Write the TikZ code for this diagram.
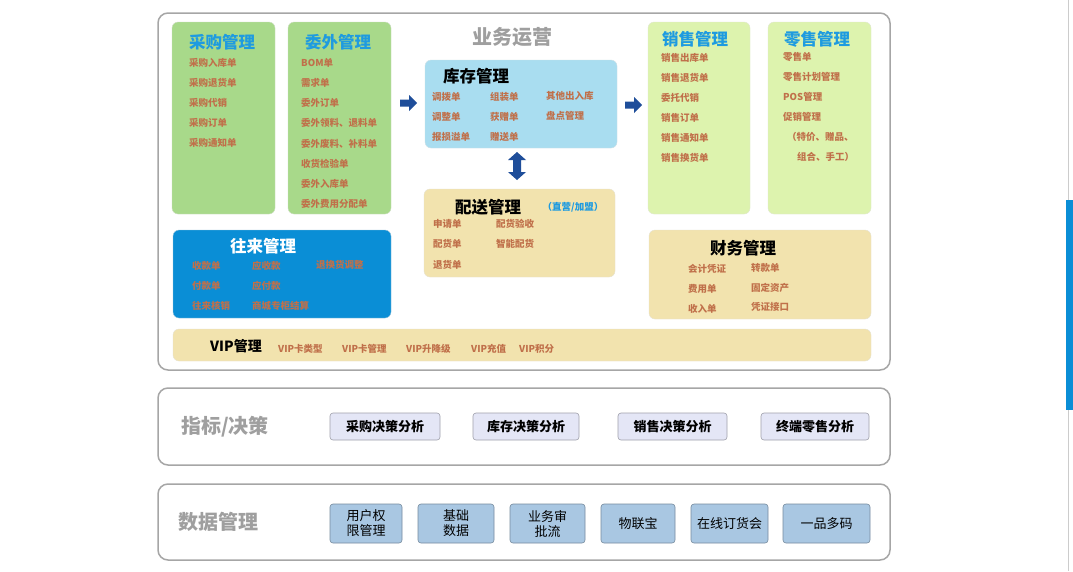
\documentclass[tikz,border=0pt]{standalone}
\usepackage{fontspec}
\setmainfont{Noto Sans CJK SC}
\usetikzlibrary{positioning}
\definecolor{tblue}{HTML}{1E9BE0}
\definecolor{itm}{HTML}{C0704A}
\definecolor{gA}{HTML}{A8D98A}
\definecolor{gB}{HTML}{DDF3AE}
\definecolor{lb}{HTML}{A9DDF0}
\definecolor{bg}{HTML}{F2E3AE}
\definecolor{db}{HTML}{0A8ED6}
\definecolor{arr}{HTML}{1F4E9A}
\definecolor{lav}{HTML}{E4E6F6}
\definecolor{bgray}{HTML}{A9C7E2}
\begin{document}
\begin{tikzpicture}[x=1pt,y=-1pt,
  outer/.style={draw=gray!70,line width=1.5pt,rounded corners=10pt,fill=white},
  box/.style={rounded corners=6pt,draw=#1!80!black!40,line width=0.4pt,fill=#1,inner sep=0pt},
  itemtxt/.style={anchor=west,text=itm,font=\fontsize{9.5}{10}\selectfont\bfseries,inner sep=0pt},
  ttl/.style={font=\fontsize{16.5}{17}\selectfont\bfseries,inner sep=0pt},
  bigg/.style={font=\fontsize{20}{21}\selectfont\bfseries,text=gray!75,inner sep=0pt},
  btn/.style={draw=#1!70!black,fill=#1,rounded corners=3pt,line width=0.6pt,font=\fontsize{13}{15}\selectfont,align=center,inner sep=0pt},
  barr/.style={fill=arr,draw=none}]
\useasboundingbox (0,0) rectangle (1073,571);
\fill[white] (0,0) rectangle (1073,571);
\draw[gray!40] (1068,0) -- (1068,571);
\fill[db] (1066,200) rectangle (1073,410);
% outer boxes
\node[outer,minimum width=732pt,minimum height=357pt] (o1) at (524,191.5) {};
\node[outer,minimum width=732pt,minimum height=77pt] (o2) at (524,426.5) {};
\node[outer,minimum width=732pt,minimum height=76pt] (o3) at (524,522) {};
\node[bigg] (yw) at (512,37) {业务运营};
% 采购
\node[box=gA,minimum width=103pt,minimum height=192pt] (cg) at (223.5,118) {};
\node[ttl,text=tblue] (cgt) at (222,42) {采购管理};
\foreach \t [count=\i] in {采购入库单,采购退货单,采购代销,采购订单,采购通知单}
  \node[itemtxt] (cg\i) at (189,{43+20*\i}) {\t};
% 委外
\node[box=gA,minimum width=103pt,minimum height=192pt] (ww) at (339.5,118) {};
\node[ttl,text=tblue] (wwt) at (338,42) {委外管理};
\foreach \t [count=\i] in {BOM单,需求单,委外订单,委外领料、退料单,委外废料、补料单,收货检验单,委外入库单,委外费用分配单}
  \node[itemtxt] (ww\i) at (301,{43+20.1*\i}) {\t};
% 库存
\node[box=lb,minimum width=192pt,minimum height=88pt] (kc) at (521,104) {};
\node[ttl] (kct) at (476,76) {库存管理};
\node[itemtxt] (k1) at (432,97) {调拨单};
\node[itemtxt] (k2) at (432,117) {调整单};
\node[itemtxt] (k3) at (432,137) {报损溢单};
\node[itemtxt] (k4) at (490,97) {组装单};
\node[itemtxt] (k5) at (490,117) {获赠单};
\node[itemtxt] (k6) at (490,137) {赠送单};
\node[itemtxt] (k7) at (546,96) {其他出入库};
\node[itemtxt] (k8) at (546,116) {盘点管理};
% 配送
\node[box=bg,minimum width=191pt,minimum height=88pt] (ps) at (519.5,233) {};
\node[ttl] (pst) at (488,207) {配送管理};
\node[text=tblue,font=\fontsize{9.5}{10}\selectfont\bfseries,inner sep=0pt] (pss) at (573,207) {（直营/加盟）};
\node[itemtxt] (p1) at (433,224) {申请单};
\node[itemtxt] (p2) at (433,244) {配货单};
\node[itemtxt] (p3) at (433,265) {退货单};
\node[itemtxt] (p4) at (496,224) {配货验收};
\node[itemtxt] (p5) at (496,244) {智能配货};
% arrows
\coordinate (a1) at (400,103);
\fill[barr] (a1) ++(0,-3.5) -- ++(9,0) -- ++(0,-4.5) -- ++(8,8) -- ++(-8,8) -- ++(0,-4.5) -- ++(-9,0) -- cycle;
\coordinate (a2) at (625,105);
\fill[barr] (a2) ++(0,-3.5) -- ++(9,0) -- ++(0,-4.5) -- ++(8,8) -- ++(-8,8) -- ++(0,-4.5) -- ++(-9,0) -- cycle;
\coordinate (a3) at (517,152);
\fill[barr] (a3) -- ++(9,8) -- ++(-5,0) -- ++(0,12) -- ++(5,0) -- ++(-9,8) -- ++(-9,-8) -- ++(5,0) -- ++(0,-12) -- ++(-5,0) -- cycle;
% 往来
\node[box=db,minimum width=218pt,minimum height=88pt] (wl) at (282,274) {};
\node[ttl,text=white] (wlt) at (263,246) {往来管理};
\node[itemtxt] (w1) at (192,266) {收款单};
\node[itemtxt] (w2) at (192,286) {付款单};
\node[itemtxt] (w3) at (192,306) {往来核销};
\node[itemtxt] (w4) at (252,266) {应收款};
\node[itemtxt] (w5) at (252,286) {应付款};
\node[itemtxt] (w6) at (252,306) {商城专柜结算};
\node[itemtxt] (w7) at (316,265) {退换货调整};
% 销售
\node[box=gB,minimum width=102pt,minimum height=192pt] (xs) at (699,118) {};
\node[ttl,text=tblue] (xst) at (695,39) {销售管理};
\foreach \t [count=\i] in {销售出库单,销售退货单,委托代销,销售订单,销售通知单,销售换货单}
  \node[itemtxt] (xs\i) at (661,{38+20*\i}) {\t};
% 零售
\node[box=gB,minimum width=103pt,minimum height=192pt] (ls) at (819.5,118) {};
\node[ttl,text=tblue] (lst) at (817,39) {零售管理};
\foreach \t [count=\i] in {零售单,零售计划管理,POS管理,促销管理}
  \node[itemtxt] (ls\i) at (783,{37+20*\i}) {\t};
\node[itemtxt] (ls5) at (787,137) {（特价、赠品、};
\node[itemtxt] (ls6) at (797,157) {组合、手工）};
% 财务
\node[box=bg,minimum width=222pt,minimum height=89pt] (cw) at (760,274.5) {};
\node[ttl] (cwt) at (743,248) {财务管理};
\node[itemtxt] (c1) at (688,269) {会计凭证};
\node[itemtxt] (c2) at (688,289) {费用单};
\node[itemtxt] (c3) at (688,309) {收入单};
\node[itemtxt] (c4) at (751,268) {转款单};
\node[itemtxt] (c5) at (751,288) {固定资产};
\node[itemtxt] (c6) at (751,307) {凭证接口};
% VIP
\node[box=bg,minimum width=698pt,minimum height=32pt] (vip) at (522,345) {};
\node[ttl,font=\fontsize{14}{15}\selectfont\bfseries] (vipt) at (236,346) {VIP管理};
\node[itemtxt] (v1) at (278,349) {VIP卡类型};
\node[itemtxt] (v2) at (342,349) {VIP卡管理};
\node[itemtxt] (v3) at (406,349) {VIP升降级};
\node[itemtxt] (v4) at (471,349) {VIP充值};
\node[itemtxt] (v5) at (519,349) {VIP积分};
% 指标/决策
\node[bigg] (zb) at (225,427) {指标/决策};
\node[btn=lav,minimum width=110pt,minimum height=27pt] (b1) at (385,426.5) {\bfseries 采购决策分析};
\node[btn=lav,minimum width=106pt,minimum height=27pt] (b2) at (526,426.5) {\bfseries 库存决策分析};
\node[btn=lav,minimum width=109pt,minimum height=27pt] (b3) at (672.5,426.5) {\bfseries 销售决策分析};
\node[btn=lav,minimum width=108pt,minimum height=27pt] (b4) at (815,426.5) {\bfseries 终端零售分析};
% 数据管理
\node[bigg] (sj) at (218,522) {数据管理};
\node[btn=bgray,minimum width=72pt,minimum height=39pt] (d1) at (366,523.5) {用户权\\限管理};
\node[btn=bgray,minimum width=76pt,minimum height=39pt] (d2) at (456,523.5) {基础\\数据};
\node[btn=bgray,minimum width=75pt,minimum height=39pt] (d3) at (547.5,523.5) {业务审\\批流};
\node[btn=bgray,minimum width=74pt,minimum height=39pt] (d4) at (638,523.5) {物联宝};
\node[btn=bgray,minimum width=77pt,minimum height=39pt] (d5) at (729.5,523.5) {在线订货会};
\node[btn=bgray,minimum width=87pt,minimum height=39pt] (d6) at (826.5,523.5) {一品多码};
\end{tikzpicture}
\end{document}
